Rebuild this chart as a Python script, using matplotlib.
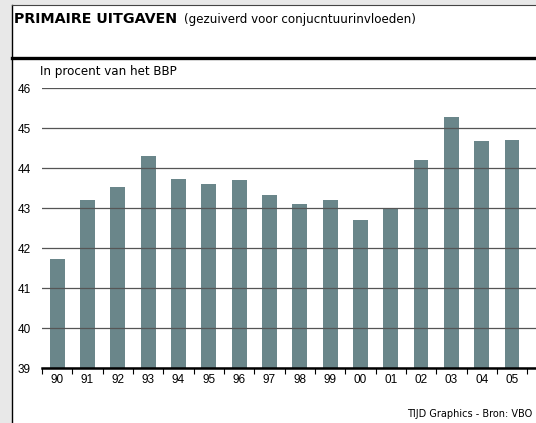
import matplotlib
matplotlib.use("Agg")
import matplotlib.pyplot as plt
from matplotlib.patches import Rectangle
from matplotlib.lines import Line2D

# data
years = ["90", "91", "92", "93", "94", "95", "96", "97",
         "98", "99", "00", "01", "02", "03", "04", "05"]
values = [41.73, 43.2, 43.52, 44.3, 43.72, 43.6, 43.7, 43.32,
          43.1, 43.2, 42.7, 43.0, 44.19, 45.28, 44.67, 44.69]
yticks = [39, 40, 41, 42, 43, 44, 45, 46]

W, H = 536, 423
fig = plt.figure(figsize=(W / 100, H / 100), dpi=100)
fig.patch.set_facecolor("#e8e8e8")

def fx(px):
    return px / W

def fy(py):
    return 1 - py / H

# white panel with frame
fig.add_artist(Rectangle((fx(12), 0), 1 - fx(12), fy(5), transform=fig.transFigure,
                         facecolor="white", edgecolor="none", zorder=0))
fig.add_artist(Line2D([fx(12), fx(12)], [0, fy(5)], transform=fig.transFigure, color="black", lw=1))
fig.add_artist(Line2D([fx(12), 1], [fy(5), fy(5)], transform=fig.transFigure, color="#444444", lw=0.8))
fig.add_artist(Line2D([fx(12), 1], [fy(58), fy(58)], transform=fig.transFigure, color="black", lw=2.4))

fig.text(fx(14), fy(19), "PRIMAIRE UITGAVEN", family="DejaVu Sans", fontsize=10.3,
         fontweight="bold", va="center")
fig.text(fx(184), fy(20), "(gezuiverd voor conjucntuurinvloeden)", family="DejaVu Sans",
         fontsize=8.6, va="center")
fig.text(fx(40), fy(71), "In procent van het BBP", family="DejaVu Sans", fontsize=8.6, va="center")
fig.text(fx(532), fy(414), "TIJD Graphics - Bron: VBO", family="DejaVu Sans", fontsize=7,
         ha="right", va="center")

ax = fig.add_axes([fx(42), fy(368), 1 - fx(42), fy(88) - fy(368)])
ax.set_facecolor("none")
x = list(range(len(years)))
ax.bar(x, values, width=0.49, bottom=0, color="#6a868a", zorder=1)
ax.set_ylim(39, 46)
ax.set_xlim(-0.5, 15.79)

ax.set_yticks(yticks)
ax.set_yticklabels([str(t) for t in yticks], family="Liberation Sans", fontsize=8.5)
ax.tick_params(axis="y", length=0, pad=8)
ax.yaxis.grid(True, color="#555555", lw=0.9)
ax.set_axisbelow(False)

ax.set_xticks(x)
ax.set_xticklabels(years, family="Liberation Sans", fontsize=8.5)
ax.set_xticks([i + 0.5 for i in range(-1, 16)], minor=True)
ax.tick_params(axis="x", which="major", length=0, pad=4)
ax.tick_params(axis="x", which="minor", length=4, width=0.8, direction="out")

for s in ["top", "right", "left"]:
    ax.spines[s].set_visible(False)
ax.spines["bottom"].set_linewidth(1.8)
ax.spines["bottom"].set_zorder(3)

fig.savefig("out.png", dpi=100, facecolor=fig.get_facecolor())
